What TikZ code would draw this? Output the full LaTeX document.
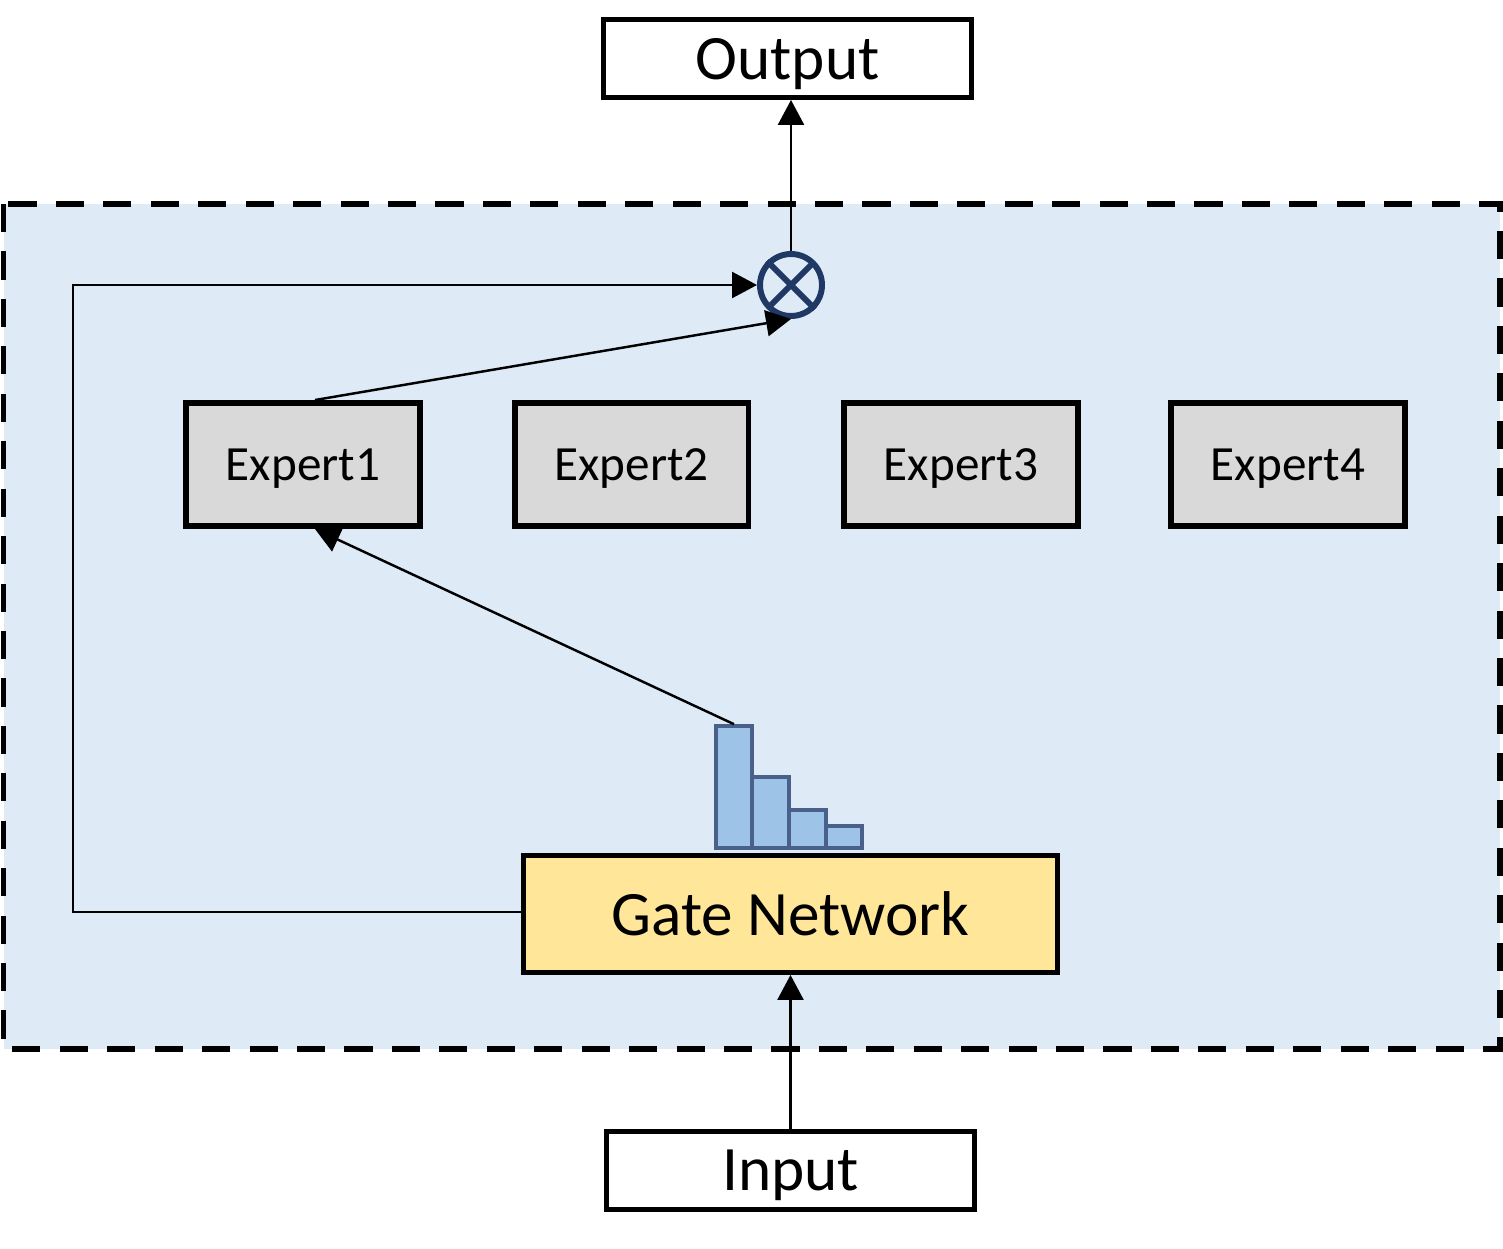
\documentclass[tikz,border=0pt]{standalone}
\usepackage{fontspec}
\setmainfont{Carlito}
\usetikzlibrary{arrows.meta}

\definecolor{panelblue}{RGB}{222,234,246}
\definecolor{expertgray}{RGB}{217,217,217}
\definecolor{gateyellow}{RGB}{255,230,153}
\definecolor{barblue}{RGB}{157,195,230}
\definecolor{barline}{RGB}{72,96,138}
\definecolor{mulnavy}{RGB}{31,56,100}

\tikzset{
  iobox/.style={draw, line width=2.8pt, fill=white, minimum width=7.36cm,
    minimum height=1.56cm, inner sep=0pt, text depth=0pt,
    font=\fontsize{36}{40}\selectfont},
  expert/.style={draw, line width=3.4pt, fill=expertgray, minimum width=4.68cm,
    minimum height=2.46cm, inner sep=0pt, text depth=0pt,
    font=\fontsize{28}{32}\selectfont},
  histbar/.style={draw=barline, line width=2.2pt, fill=barblue, inner sep=0pt,
    anchor=south west},
  flow/.style={->, line width=1.4pt}
}

\begin{document}
\begin{tikzpicture}[x=0.02cm, y=-0.02cm,
    >={Triangle[length=0.5cm, width=0.52cm]}]
    \useasboundingbox (0, 0) rectangle (1503, 1248);

    \draw [fill=panelblue, line width=3.4pt, dash pattern=on 16pt off 11pt]
      (3.5, 204) rectangle (1499.5, 1049);

    \node [iobox] (output) at (787.5, 58.5) {Output};
    \node [iobox] (input) at (790.5, 1170.5) {Input};

    \node [expert] (e1) at (303, 464.5) {Expert1};
    \node [expert] (e2) at (631.5, 464.5) {Expert2};
    \node [expert] (e3) at (961, 464.5) {Expert3};
    \node [expert] (e4) at (1288, 464.5) {Expert4};

    \node [draw, line width=2.8pt, fill=gateyellow, minimum width=10.68cm,
      minimum height=2.34cm, inner sep=0pt, text depth=0pt,
      font=\fontsize{36}{40}\selectfont]
      (gate) at (790.5, 914) {Gate Network};

    \node [histbar, minimum width=0.72cm, minimum height=2.44cm] (b1) at (714, 850) {};
    \node [histbar, minimum width=0.74cm, minimum height=1.42cm] (b2) at (750, 850) {};
    \node [histbar, minimum width=0.74cm, minimum height=0.76cm] (b3) at (787, 850) {};
    \node [histbar, minimum width=0.72cm, minimum height=0.44cm] (b4) at (824, 850) {};

    \node [draw=mulnavy, line width=3.4pt, circle, minimum size=1.24cm, inner sep=0pt]
      (mul) at (791, 285) {};
    \draw [mulnavy, line width=3.4pt, shorten <=2pt, shorten >=2pt]
      (mul.north west) -- (mul.south east) (mul.north east) -- (mul.south west);

    \coordinate (loop) at (73, 912);

    \draw [flow] (input) -- (gate);
    \draw [flow] (b1.north) -- ([xshift=0.24cm]e1.south);
    \draw [flow] ([xshift=0.24cm]e1.north) -- (mul.south);
    \draw [flow] (gate.west |- loop) -- (loop) |- (mul);
    \draw [flow] (mul) -- (mul |- output.south);
\end{tikzpicture}
\end{document}
